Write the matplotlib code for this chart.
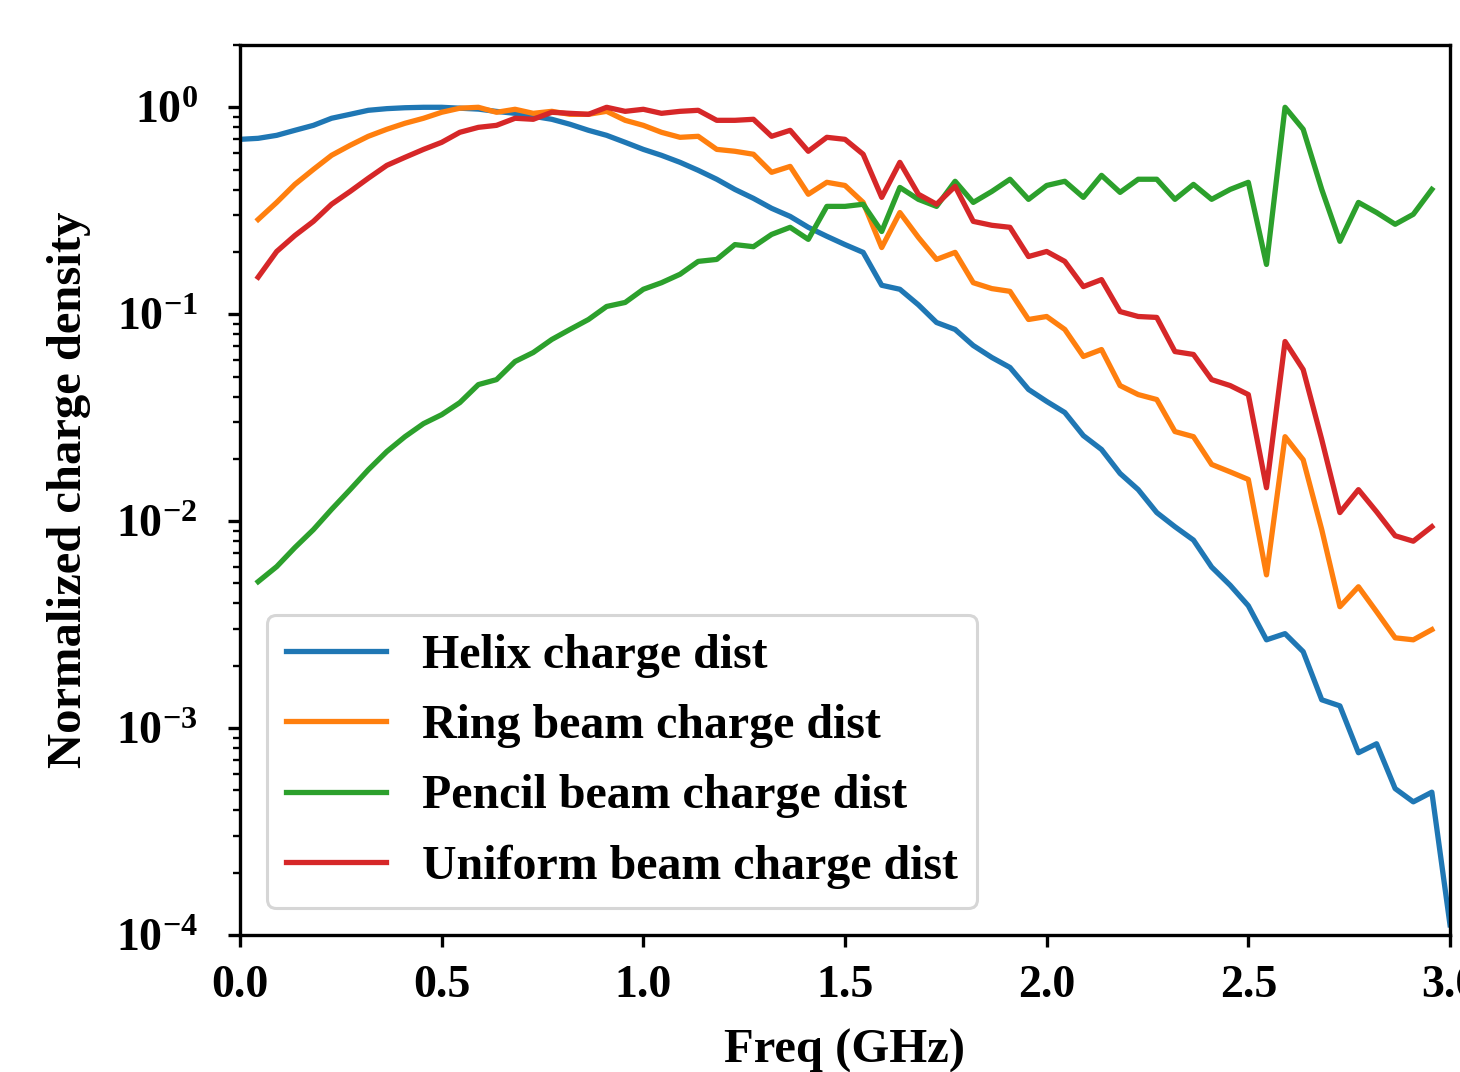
import numpy as np
import matplotlib
matplotlib.use('Agg')
import matplotlib.pyplot as plt

plt.rcParams['font.family'] = ['Liberation Serif', 'DejaVu Serif']
plt.rcParams['font.weight'] = 'bold'
plt.rcParams['axes.labelweight'] = 'bold'
plt.rcParams['mathtext.fontset'] = 'custom'
plt.rcParams['mathtext.rm'] = 'Liberation Serif:bold'
plt.rcParams['mathtext.it'] = 'Liberation Serif:bold'
plt.rcParams['mathtext.bf'] = 'Liberation Serif:bold'

# frequency grid (GHz)
freq = [0.000, 0.045, 0.091, 0.136, 0.182, 0.227, 0.273, 0.318, 0.364, 0.409,
        0.455, 0.500, 0.545, 0.591, 0.636, 0.682, 0.727, 0.773, 0.818, 0.864,
        0.909, 0.955, 1.000, 1.045, 1.091, 1.136, 1.182, 1.227, 1.273, 1.318,
        1.364, 1.409, 1.455, 1.500, 1.545, 1.591, 1.636, 1.682, 1.727, 1.773,
        1.818, 1.864, 1.909, 1.955, 2.000, 2.045, 2.091, 2.136, 2.182, 2.227,
        2.273, 2.318, 2.364, 2.409, 2.455, 2.500, 2.545, 2.591, 2.636, 2.682,
        2.727, 2.773, 2.818, 2.864, 2.909, 2.955, 3.000]

helix = [0.70, 0.708, 0.732, 0.774, 0.818, 0.885, 0.925, 0.967, 0.985, 0.995,
         1.0, 1.0, 0.99, 0.98, 0.955, 0.935, 0.905, 0.875, 0.828, 0.774,
         0.732, 0.677, 0.626, 0.586, 0.542, 0.496, 0.449, 0.401, 0.363, 0.325,
         0.297, 0.263, 0.238, 0.217, 0.199, 0.138, 0.132, 0.111, 0.0912, 0.0844,
         0.0706, 0.0618, 0.0553, 0.0433, 0.0379, 0.0335, 0.0259, 0.0222, 0.0170, 0.0142,
         0.0110, 0.0094, 0.0081, 0.0060, 0.0049, 0.0039, 0.00267, 0.00286, 0.00234, 0.00137,
         0.00128, 0.00076, 0.00084, 0.00051, 0.00044, 0.00049, 0.000112]

# the beam curves start at freq[1] and stop at freq[65]
ring = [0.287, 0.347, 0.424, 0.501, 0.586, 0.655, 0.724, 0.783, 0.837,
        0.885, 0.946, 0.99, 1.0, 0.946, 0.978, 0.935, 0.956, 0.925, 0.925,
        0.956, 0.865, 0.818, 0.757, 0.716, 0.724, 0.626, 0.613, 0.593, 0.485,
        0.518, 0.380, 0.434, 0.419, 0.347, 0.210, 0.310, 0.235, 0.184, 0.199,
        0.142, 0.133, 0.129, 0.0943, 0.0975, 0.0844, 0.0625, 0.0675, 0.0452, 0.0409,
        0.0387, 0.0271, 0.0256, 0.0188, 0.0173, 0.0159, 0.0055, 0.0256, 0.0198, 0.0091,
        0.00386, 0.00482, 0.00365, 0.00273, 0.00267, 0.00299]

pencil = [0.0051, 0.00603, 0.00745, 0.0091, 0.0114, 0.0142, 0.0177, 0.0217, 0.0256,
          0.0296, 0.0327, 0.0374, 0.0457, 0.0483, 0.0591, 0.0653, 0.0755, 0.0844, 0.0943,
          0.109, 0.114, 0.132, 0.142, 0.156, 0.180, 0.184, 0.217, 0.212, 0.243,
          0.263, 0.230, 0.332, 0.332, 0.340, 0.251, 0.410, 0.359, 0.332, 0.439,
          0.347, 0.392, 0.449, 0.359, 0.419, 0.439, 0.367, 0.469, 0.388, 0.449,
          0.449, 0.359, 0.424, 0.359, 0.401, 0.434, 0.174, 1.0, 0.783, 0.401,
          0.225, 0.347, 0.310, 0.272, 0.304, 0.401]

uniform = [0.151, 0.201, 0.240, 0.281, 0.340, 0.392, 0.454, 0.524, 0.573,
           0.626, 0.677, 0.757, 0.800, 0.818, 0.885, 0.875, 0.946, 0.935, 0.925,
           1.0, 0.956, 0.978, 0.935, 0.956, 0.967, 0.865, 0.865, 0.875, 0.724,
           0.774, 0.613, 0.716, 0.700, 0.593, 0.367, 0.542, 0.380, 0.340, 0.415,
           0.281, 0.269, 0.263, 0.190, 0.201, 0.180, 0.136, 0.147, 0.103, 0.0975,
           0.0965, 0.066, 0.0639, 0.0483, 0.0452, 0.0409, 0.0145, 0.0738, 0.054, 0.0248,
           0.011, 0.0142, 0.0111, 0.0085, 0.0080, 0.0094]

labels = ['Helix charge dist', 'Ring beam charge dist',
          'Pencil beam charge dist', 'Uniform beam charge dist']

fig = plt.figure(figsize=(14.6, 10.72), dpi=100)
ax = fig.add_axes([240/1460, 137/1072, 1210/1460, 890/1072])

lw = 3.8
ax.plot(freq, helix, color='#1f77b4', lw=lw, label=labels[0])
ax.plot(freq[1:66], ring, color='#ff7f0e', lw=lw, label=labels[1])
ax.plot(freq[1:66], pencil, color='#2ca02c', lw=lw, label=labels[2])
ax.plot(freq[1:66], uniform, color='#d62728', lw=lw, label=labels[3])

ax.set_yscale('log')
ax.set_xlim(0, 3.0)
ax.set_ylim(1e-4, 2.0)
ax.set_xticks([0.0, 0.5, 1.0, 1.5, 2.0, 2.5, 3.0])
ax.set_xticklabels(['0.0', '0.5', '1.0', '1.5', '2.0', '2.5', '3.0'])

for s in ax.spines.values():
    s.set_linewidth(2.4)
ax.tick_params(which='major', length=8.5, width=2.4, labelsize=33)
ax.tick_params(which='minor', length=5, width=1.7)
ax.tick_params(axis='x', pad=13)
ax.tick_params(axis='y', pad=22)

ax.set_xlabel('Freq (GHz)', fontsize=35)
ax.set_ylabel('Normalized charge density', fontsize=35)
ax.xaxis.set_label_coords(0.5, -0.105)
ax.yaxis.set_label_coords(-0.123, 0.5)

leg = ax.legend(loc='lower left', bbox_to_anchor=(0.022, 0.030), borderaxespad=0,
                fontsize=34.5, handlelength=2.1, handletextpad=0.75,
                borderpad=0.4, labelspacing=0.55)
leg.get_frame().set_linewidth(2.2)
leg.get_frame().set_edgecolor('0.8')

fig.savefig('out.png', dpi=100)
